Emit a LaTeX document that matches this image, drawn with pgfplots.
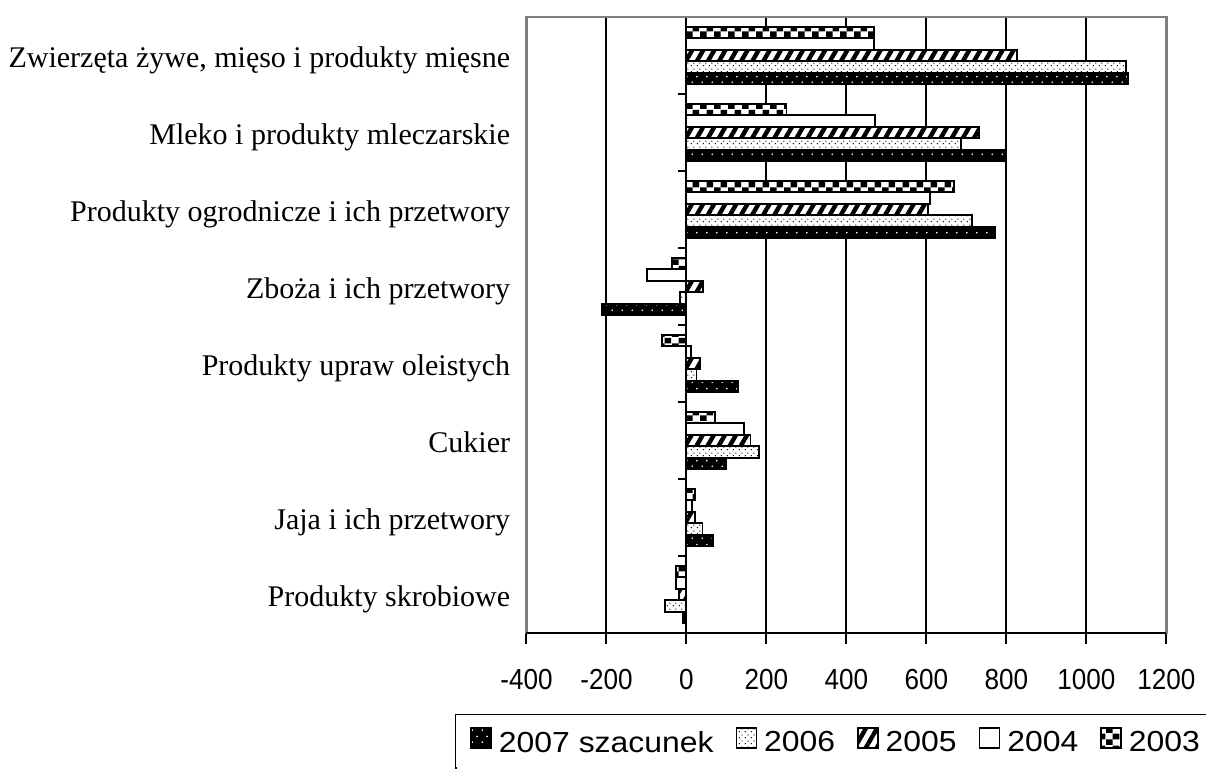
\documentclass[border=0pt]{standalone}
\usepackage{fontspec}
\setmainfont{Liberation Serif}
\newfontfamily\legfont{Liberation Sans}[FakeStretch=1.1]
\newfontfamily\tickfont{Liberation Sans}[FakeStretch=0.9]
\usepackage{pgfplots}
\pgfplotsset{compat=1.18}
\usetikzlibrary{patterns,patterns.meta}

\tikzdeclarepattern{
  name=checker,
  bottom left={(0pt,0pt)},
  top right={(7pt,6pt)},
  tile size={(7pt,6pt)},
  code={
    \fill (0pt,0pt) rectangle (3.5pt,3pt);
    \fill (3.5pt,3pt) rectangle (7pt,6pt);
  }
}
\tikzdeclarepattern{
  name=finedots,
  bottom left={(0pt,0pt)},
  top right={(3pt,3pt)},
  tile size={(3pt,3pt)},
  code={
    \fill (0.75pt,0.75pt) circle (0.4pt);
    \fill (2.25pt,2.25pt) circle (0.4pt);
  }
}
\tikzdeclarepattern{
  name=sparsedots,
  bottom left={(0pt,0pt)},
  top right={(5pt,6pt)},
  tile size={(5pt,6pt)},
  code={
    \fill (1.25pt,1.5pt) circle (0.5pt);
    \fill (3.75pt,4.5pt) circle (0.5pt);
  }
}

\definecolor{bordergray}{RGB}{128,128,128}

\pgfplotsset{
  mybar/.style={
    draw=black, line width=0.9pt,
    legend image code/.code={\draw[##1, line width=0.8pt] (0pt,-2.5pt) rectangle (10pt,7.5pt);}
  }
}

\begin{document}
\begin{tikzpicture}
\begin{axis}[
  scale only axis, width=320pt, height=308pt,
  xmin=-400, xmax=1200, ymin=-0.5, ymax=7.5,
  xbar, bar width=0.15,
  clip=false,
  axis line style={draw=none},
  xtick={-400,-200,...,1200},
  xticklabels={-400,-200,0,200,400,600,800,1000,1200},
  ytick={0,...,7},
  yticklabels={Produkty skrobiowe, Jaja i ich przetwory, Cukier, Produkty upraw oleistych, Zboża i ich przetwory, Produkty ogrodnicze i ich przetwory, Mleko i produkty mleczarskie, {Zwierzęta żywe, mięso i produkty mięsne}},
  major tick length=0pt,
  tick style={draw=none},
  xmajorgrids, grid style={black, line width=1pt},
  xticklabel style={font=\tickfont\fontsize{14.5}{17}\selectfont, anchor=base, inner sep=0pt, yshift=-28.5pt},
  yticklabel style={font=\fontsize{15}{18}\selectfont, anchor=base east, inner sep=0pt, xshift=-8pt, yshift=-6pt},
  legend columns=-1,
  legend style={at={(0,0)}, anchor=north west, xshift=-35.25pt, yshift=-41pt,
    draw=none, font=\legfont\fontsize{14.5}{17}\selectfont,
    inner xsep=7pt, inner ysep=6pt, nodes={inner sep=0pt},
    /tikz/every odd column/.append style={column sep=3.5pt},
    /tikz/every even column/.append style={column sep=11pt}},
]
% 2007 szacunek
\addplot[mybar, fill=black, postaction={pattern=sparsedots, pattern color=white}, bar shift=-0.30]
  coordinates {(1103,7) (795,6) (772,5) (-212,4) (129,3) (98,2) (67,1) (-10,0)};
\addlegendentry{2007 szacunek}
% 2006
\addplot[mybar, fill=white, postaction={pattern=finedots, pattern color=black}, bar shift=-0.15]
  coordinates {(1099,7) (686,6) (713,5) (-16,4) (25,3) (182,2) (40,1) (-54,0)};
\addlegendentry{2006}
% 2005
\addplot[mybar, fill=white, postaction={pattern={Lines[angle=60,distance=4.8pt,line width=2.2pt]}, pattern color=black}, bar shift=0]
  coordinates {(827,7) (731,6) (603,5) (42,4) (33,3) (160,2) (21,1) (-18,0)};
\addlegendentry{2005}
% 2004
\addplot[mybar, fill=white, bar shift=0.15]
  coordinates {(468,7) (472,6) (608,5) (-99,4) (12,3) (144,2) (13,1) (-27,0)};
\addlegendentry{2004}
% 2003
\addplot[mybar, fill=white, postaction={pattern=checker, pattern color=black}, bar shift=0.30]
  coordinates {(468,7) (250,6) (668,5) (-36,4) (-62,3) (71,2) (21,1) (-27,0)};
\addlegendentry{2003}

\draw[black, line width=1pt] (axis cs:0,-0.5) -- (axis cs:0,7.5);
\pgfplotsinvokeforeach{-0.5,0.5,...,7.5}{\draw[black,line width=1pt] (axis cs:0,#1) -- ++(-4pt,0pt);}
\pgfplotsinvokeforeach{-400,-200,...,1200}{\draw[black,line width=1pt] (axis cs:#1,-0.5) -- ++(0pt,-5.5pt);}
\draw[bordergray, line width=1.2pt] (axis cs:-400,-0.5) rectangle (axis cs:1200,7.5);
\draw[black, line width=1pt] (axis cs:-400,-0.5) -- (axis cs:1200,-0.5);
% legend frame (runs past the right and bottom edges of the picture)
\draw[black, line width=1pt] (axis cs:-400,-0.5) ++(-35.25pt,-90pt) -- ++(0pt,49pt) -- ++(420pt,0pt);
\coordinate (bl) at (axis cs:-400,-0.5);
\end{axis}
\pgfresetboundingbox
\path[use as bounding box] (bl) ++(-263.25pt,-68pt) rectangle ++(603pt,384.5pt);
\end{tikzpicture}
\end{document}
